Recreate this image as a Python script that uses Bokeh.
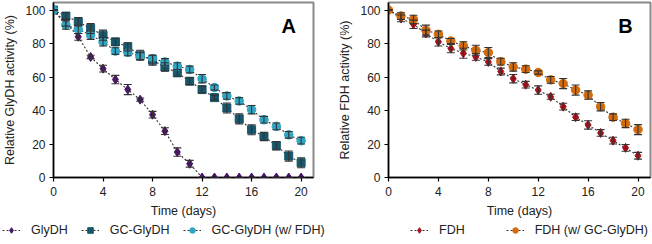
from bokeh.plotting import figure
from bokeh.layouts import row, column
from bokeh.models import (ColumnDataSource, Whisker, TeeHead, Legend, LegendItem,
                          Label, FixedTicker, Range1d)
from bokeh.embed import file_html
from bokeh.resources import INLINE

days = list(range(21))

glydh = [100, 92.4, 84, 72, 65, 58.5, 52.5, 46.5, 37.5, 27.7, 15.2, 8.2,
         0, 0, 0, 0, 0, 0, 0, 0, 0]
glydh_err = [0, 2, 2, 1, 2, 2.5, 3, 1, 2, 2, 2.5, 2, 0, 0, 0, 0, 0, 0, 0, 0, 0]

gc_glydh = [100, 96.4, 93, 89, 85, 81, 78, 73, 70, 66, 62.5, 57.5, 52.5, 47.7,
            41.5, 35, 28.5, 24.5, 19, 12.8, 8.8]
gc_glydh_err = [0, 2, 2.5, 3, 3, 2, 2.5, 3, 3, 2.5, 2, 2, 2, 1.5, 3, 3, 3, 2.5,
                2.5, 3, 3]

gc_glydh_fdh = [100, 91, 88.5, 85, 81, 75.5, 74.7, 72.5, 71, 69, 66.5, 64.5,
                59, 53.7, 48.7, 45.7, 40.5, 34.5, 30.5, 25.5, 22]
gc_glydh_fdh_err = [0, 2.5, 2.5, 2.5, 2.5, 2, 2, 2, 2, 2, 2, 2, 2.5, 1.5, 2, 2,
                    2.5, 2, 2, 2, 2]

fdh = [100, 95, 91.5, 86, 81, 77, 74.2, 72, 69, 63.3, 59, 55.4, 52.2, 48.2,
       42.3, 36, 31.4, 26.6, 22, 17.7, 13]
fdh_err = [0, 2, 2.5, 2, 2.5, 2.5, 3, 2, 2, 2, 2.5, 2, 2.5, 1.5, 2, 2, 2.5, 2,
           2, 2, 2]

fdh_gc = [100, 96.4, 94.4, 88, 85.5, 81.5, 78.6, 76, 74.6, 69.2, 66, 64.7, 62.7,
          58.3, 56.1, 52.2, 49.2, 42.3, 36, 32.3, 28.6]
fdh_gc_err = [0, 2, 2.5, 3, 2, 1.5, 2.5, 3, 3, 2, 2.5, 2, 1, 2, 3, 3, 2.5, 2.5,
              2, 2.5, 3]

x_ticks = [0, 4, 8, 12, 16, 20]
y_ticks = [0, 20, 40, 60, 80, 100]

series_a = [("GlyDH", glydh, glydh_err, "#4a1466", "diamond", 9),
            ("GC-GlyDH", gc_glydh, gc_glydh_err, "#17566b", "square", 8),
            ("GC-GlyDH (w/ FDH)", gc_glydh_fdh, gc_glydh_fdh_err, "#2ea6c4",
             "circle", 8.5)]
series_b = [("FDH", fdh, fdh_err, "#a8101a", "diamond", 9),
            ("FDH (w/ GC-GlyDH)", fdh_gc, fdh_gc_err, "#d26b0e", "circle", 8.5)]

FONT = "Liberation Sans"
TXT = "#222222"
LINE_C = "#333333"


def make_fig(width, left, right, ylabel):
    p = figure(width=width, height=220, output_backend="svg",
               toolbar_location=None, x_range=Range1d(0, 21),
               y_range=Range1d(0, 104.5), min_border_left=left,
               min_border_right=right, min_border_top=2, min_border_bottom=43)
    p.xgrid.visible = False
    p.ygrid.visible = False
    p.outline_line_color = "#8a8a8a"
    p.outline_line_width = 2
    p.background_fill_color = "white"
    p.border_fill_color = "white"
    p.xaxis.ticker = FixedTicker(ticks=x_ticks)
    p.yaxis.ticker = FixedTicker(ticks=y_ticks)
    for ax in (p.xaxis[0], p.yaxis[0]):
        ax.axis_line_color = "black"
        ax.axis_line_width = 1.5
        ax.major_tick_line_color = "black"
        ax.major_tick_line_width = 1.2
        ax.major_tick_in = 0
        ax.major_tick_out = 4
        ax.minor_tick_line_color = None
        ax.major_label_text_font = FONT
        ax.major_label_text_font_size = "12px"
        ax.major_label_text_color = TXT
        ax.axis_label_text_font = FONT
        ax.axis_label_text_font_size = "12.5px"
        ax.axis_label_text_font_style = "normal"
        ax.axis_label_text_color = TXT
        ax.major_label_standoff = 5
        ax.axis_label_standoff = 5
    p.xaxis.axis_label = "Time (days)"
    p.yaxis.axis_label = ylabel
    p.yaxis.major_label_standoff = 4
    return p


def add_series(p, y, err, color, marker, size):
    src = ColumnDataSource(dict(x=days, y=y,
                                lo=[a - b for a, b in zip(y, err)],
                                hi=[a + b for a, b in zip(y, err)]))
    p.line("x", "y", source=src, line_color=LINE_C, line_width=1.1,
           line_dash="2 2")
    p.scatter("x", "y", source=src, marker=marker, size=size,
              fill_color=color, line_color=color)
    w = Whisker(base="x", lower="lo", upper="hi", source=src,
                line_color=LINE_C, line_width=1.1, level="overlay",
                upper_head=TeeHead(size=8, line_color=LINE_C, line_width=1.1),
                lower_head=TeeHead(size=8, line_color=LINE_C, line_width=1.1))
    p.add_layout(w)


def make_legend_fig(series, x, spacing):
    # Legend-only strip: its ranges lie far from the data, so only the legend shows
    lf = figure(width=326, height=24, output_backend="svg",
                toolbar_location=None, x_range=Range1d(1000, 1001),
                y_range=Range1d(1000, 1001), x_axis_location=None,
                y_axis_location=None, min_border_left=0, min_border_right=0,
                min_border_top=0, min_border_bottom=0)
    lf.xgrid.visible = False
    lf.ygrid.visible = False
    lf.outline_line_color = None
    items = []
    for name, y, err, color, marker, size in series:
        src = ColumnDataSource(dict(x=days, y=y))
        ln = lf.line("x", "y", source=src, line_color=LINE_C,
                     line_width=1.1, line_dash="2 2")
        sc = lf.scatter("x", "y", source=src, marker=marker, size=size - 1.5,
                        fill_color=color, line_color=color)
        items.append(LegendItem(label=name, renderers=[ln, sc]))
    leg = Legend(items=items, orientation="horizontal", location=(x, 7),
                 glyph_width=18, glyph_height=14, label_height=14,
                 label_standoff=11, spacing=spacing, padding=0, margin=0,
                 border_line_color=None, background_fill_alpha=0,
                 label_text_font=FONT, label_text_font_size="12.5px",
                 label_text_color=TXT)
    lf.add_layout(leg, "center")
    return lf


# Panel A
pa = make_fig(326, 50, 13, "Relative GlyDH activity (%)")
for s in series_a:
    add_series(pa, s[1], s[2], s[3], s[4], s[5])
pa.add_layout(Label(x=19.0, y=90.7, text="A", text_font=FONT,
                    text_font_size="20px", text_font_style="bold",
                    text_align="center", text_baseline="middle",
                    text_color="black"))

# Panel B
pb = make_fig(326, 62, 2, "Relative FDH activity (%)")
for s in series_b:
    add_series(pb, s[1], s[2], s[3], s[4], s[5])
pb.add_layout(Label(x=19.0, y=90.7, text="B", text_font=FONT,
                    text_font_size="20px", text_font_style="bold",
                    text_align="center", text_baseline="middle",
                    text_color="black"))

la = make_legend_fig(series_a, 2, 13)
lb = make_legend_fig(series_b, 84, 41)

layout = column(row(pa, pb, spacing=0), row(la, lb, spacing=0), spacing=0)
open("out.html", "w").write(file_html(layout, INLINE))
